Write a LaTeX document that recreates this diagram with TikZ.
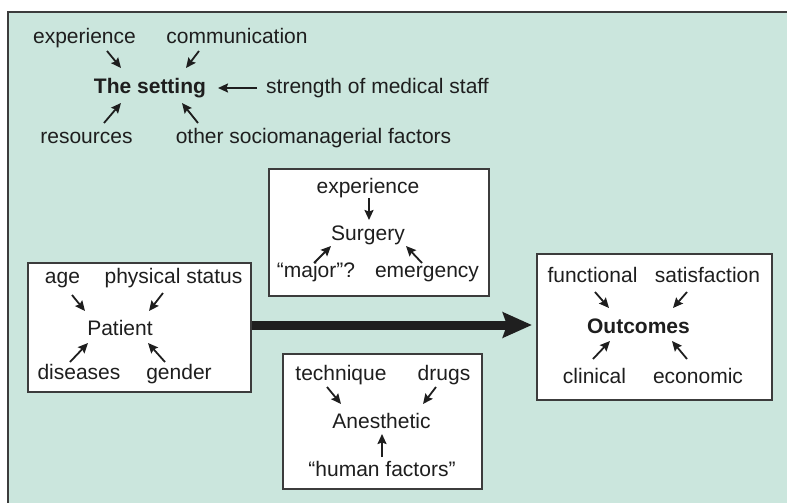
\documentclass[tikz,border=0pt]{standalone}
\usepackage{fontspec}
\setmainfont{Liberation Sans}
\usetikzlibrary{arrows.meta}
\definecolor{bgmint}{RGB}{203,230,221}
\definecolor{framegray}{RGB}{60,60,60}
\definecolor{txtgray}{RGB}{30,30,30}
\tikzset{
  lbl/.style={anchor=base, inner sep=0pt, text=txtgray, font=\fontsize{21}{25}\selectfont},
  boldlbl/.style={lbl, font=\fontsize{21}{25}\selectfont\bfseries},
  smallarr/.style={line width=1.8pt, draw=txtgray, -{Stealth[length=10pt,width=9pt,inset=1.5pt]}},
  panel/.style={draw=framegray, line width=1.2pt, fill=white},
  bigarr/.style={line width=9pt, draw=black!88, -{Stealth[length=29pt,width=25pt,inset=4pt]}}
}
\begin{document}
\begin{tikzpicture}[x=1pt,y=-1pt]
\useasboundingbox (0,0) rectangle (787,503);
% outer frame
\fill[bgmint] (8,12) rectangle (790,506);
\draw[framegray, line width=2pt] (8,506) -- (8,12) -- (790,12);

% ---------------- The setting ----------------
\node[lbl] (sexp) at (84.5,44) {experience};
\node[lbl] (scom) at (237,44) {communication};
\node[boldlbl] (set) at (150,93) {The setting};
\node[lbl] (sstr) at (377.5,93) {strength of medical staff};
\node[lbl] (sres) at (86.5,143) {resources};
\node[lbl] (soth) at (313.5,143) {other sociomanagerial factors};
\coordinate (a1s) at (107,51);  \coordinate (a1e) at (121,68);
\coordinate (a2s) at (199,51);  \coordinate (a2e) at (186,68);
\coordinate (a3s) at (104,123); \coordinate (a3e) at (121,103);
\coordinate (a4s) at (198,123); \coordinate (a4e) at (182,103);
\coordinate (a5s) at (257,88);  \coordinate (a5e) at (218,88);
\draw[smallarr] (a1s) -- (a1e);
\draw[smallarr] (a2s) -- (a2e);
\draw[smallarr] (a3s) -- (a3e);
\draw[smallarr] (a4s) -- (a4e);
\draw[smallarr] (a5s) -- (a5e);

% ---------------- Surgery ----------------
\draw[panel] (269,169) rectangle (489,296);
\node[lbl] (gexp) at (368,193) {experience};
\node[lbl] (surg) at (368,240) {Surgery};
\node[lbl] (gmaj) at (316,277) {“major”?};
\node[lbl] (gemg) at (427,277) {emergency};
\coordinate (b1s) at (369,198); \coordinate (b1e) at (369,220);
\coordinate (b2s) at (314,263); \coordinate (b2e) at (331,246);
\coordinate (b3s) at (422,263); \coordinate (b3e) at (406,246);
\draw[smallarr] (b1s) -- (b1e);
\draw[smallarr] (b2s) -- (b2e);
\draw[smallarr] (b3s) -- (b3e);

% ---------------- Patient ----------------
\draw[panel] (28,263) rectangle (251,392);
\node[lbl] (page) at (62.5,283) {age};
\node[lbl] (pphy) at (173.5,283) {physical status};
\node[lbl] (pat) at (120,335) {Patient};
\node[lbl] (pdis) at (79,379) {diseases};
\node[lbl] (pgen) at (179,379) {gender};
\coordinate (c1s) at (72,295);  \coordinate (c1e) at (85,311);
\coordinate (c2s) at (163,293); \coordinate (c2e) at (149,311);
\coordinate (c3s) at (70,362);  \coordinate (c3e) at (88,343);
\coordinate (c4s) at (165,362); \coordinate (c4e) at (148,343);
\draw[smallarr] (c1s) -- (c1e);
\draw[smallarr] (c2s) -- (c2e);
\draw[smallarr] (c3s) -- (c3e);
\draw[smallarr] (c4s) -- (c4e);

% ---------------- Anesthetic ----------------
\draw[panel] (283,354) rectangle (482,489);
\node[lbl] (atec) at (341,380) {technique};
\node[lbl] (adrg) at (444,380) {drugs};
\node[lbl] (anes) at (381.5,428) {Anesthetic};
\node[lbl] (ahum) at (382,476) {“human factors”};
\coordinate (d1s) at (327,387); \coordinate (d1e) at (341,404);
\coordinate (d2s) at (436,387); \coordinate (d2e) at (423,404);
\coordinate (d3s) at (382,457); \coordinate (d3e) at (382,434);
\draw[smallarr] (d1s) -- (d1e);
\draw[smallarr] (d2s) -- (d2e);
\draw[smallarr] (d3s) -- (d3e);

% ---------------- Outcomes ----------------
\draw[panel] (537,254) rectangle (772,400);
\node[lbl] (ofun) at (592.5,282) {functional};
\node[lbl] (osat) at (707.5,282) {satisfaction};
\node[boldlbl] (out) at (638.5,333) {Outcomes};
\node[lbl] (ocli) at (594.5,383) {clinical};
\node[lbl] (oeco) at (698,383) {economic};
\coordinate (e1s) at (595,292); \coordinate (e1e) at (609,308);
\coordinate (e2s) at (687,292); \coordinate (e2e) at (673,308);
\coordinate (e3s) at (593,359); \coordinate (e3e) at (610,341);
\coordinate (e4s) at (687,359); \coordinate (e4e) at (672,341);
\draw[smallarr] (e1s) -- (e1e);
\draw[smallarr] (e2s) -- (e2e);
\draw[smallarr] (e3s) -- (e3e);
\draw[smallarr] (e4s) -- (e4e);

% ---------------- big arrow ----------------
\coordinate (bigs) at (251.6,325);
\coordinate (bige) at (532,325);
\draw[bigarr] (bigs) -- (bige);
\end{tikzpicture}
\end{document}
